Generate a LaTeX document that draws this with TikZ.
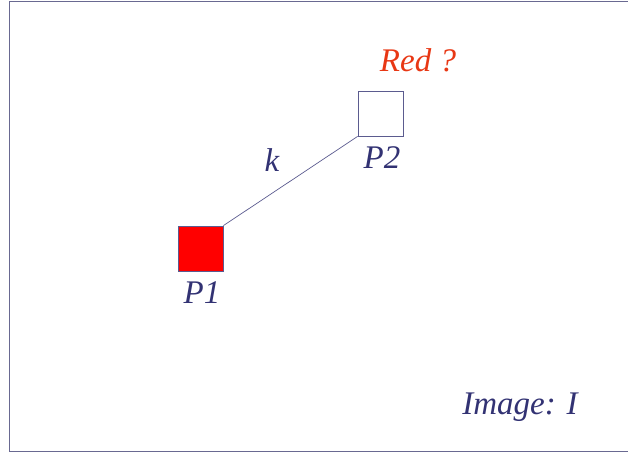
\documentclass[tikz,border=0pt]{standalone}
\usepackage{fontspec}
\setmainfont{Liberation Serif}
\definecolor{frame}{RGB}{105,105,145}
\definecolor{ink}{RGB}{50,50,115}
\definecolor{redq}{RGB}{232,55,20}
\definecolor{boxred}{RGB}{255,0,0}
\begin{document}
\begin{tikzpicture}[x=1pt,y=-1pt,
  lbl/.style={text=ink,font=\itshape\fontsize{33}{33}\selectfont,inner sep=0pt},
  sq/.style={draw=ink!80,line width=0.8pt,minimum width=45pt,minimum height=45pt,inner sep=0pt}]
\useasboundingbox (0,0) rectangle (628,454);
\begin{scope}
\clip (0,0) rectangle (628,454);
\draw[frame,line width=1.8pt] (640,1.5) -- (9.5,1.5) -- (9.5,451.5) -- (640,451.5);
\end{scope}
\node[sq,fill=boxred] (p1) at (200.5,248.5) {};
\node[sq,fill=white] (p2) at (380.5,113.5) {};
\draw[ink!80,line width=0.7pt] (p1.north east) -- (p2.south west);
\node[lbl] (l1) at (202,293) {P1};
\node[lbl] (l2) at (382,158) {P2};
\node[lbl] (k) at (272,160) {k};
\node[lbl,text=redq] (red) at (418,60) {Red ?};
\node[lbl] (img) at (520,407) {Image: I};
\end{tikzpicture}
\end{document}
